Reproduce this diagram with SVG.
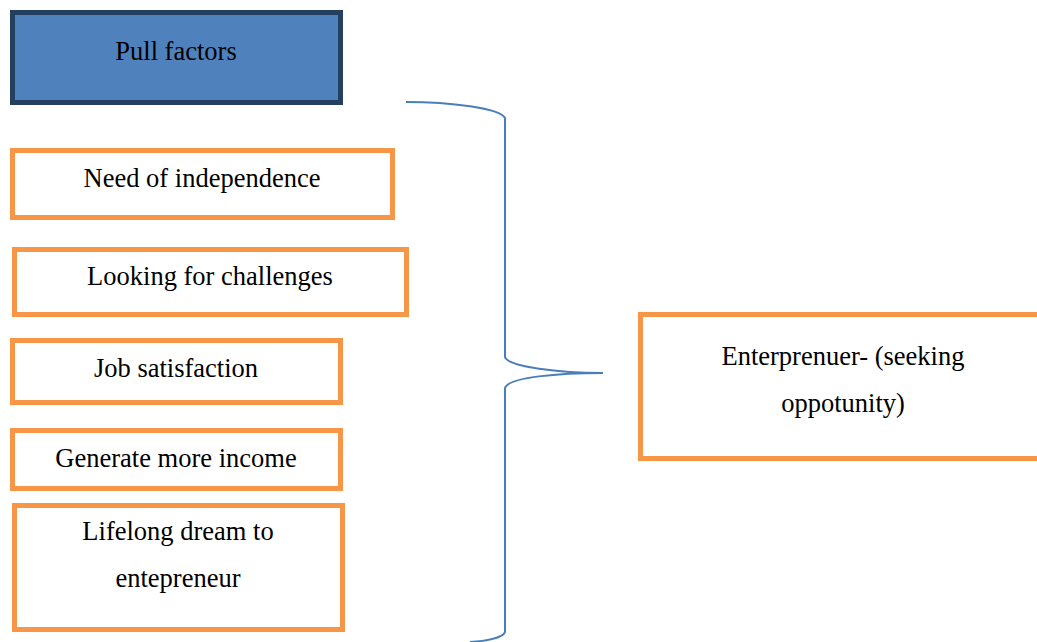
<svg xmlns="http://www.w3.org/2000/svg" width="1037" height="642" viewBox="0 0 1037 642">
<style>
.box{fill:#FFFFFF;stroke:#F79646;stroke-width:5}
.head{fill:#4F81BD;stroke:#243F60;stroke-width:5}
.t{font-family:"Liberation Serif","Times New Roman",serif;font-size:26.5px;fill:#000;text-anchor:middle}
.brace{fill:none;stroke:#4A7EBB;stroke-width:2}
</style>
<rect width="1037" height="642" fill="#FFFFFF"/>
<g id="pull-factors">
<rect class="head" x="12.5" y="12.5" width="328" height="90"/>
<text class="t" x="176" y="60">Pull factors</text>
</g>
<g id="need-independence">
<rect class="box" x="12.5" y="150.5" width="380" height="67"/>
<text class="t" x="202" y="187">Need of independence</text>
</g>
<g id="looking-challenges">
<rect class="box" x="14.5" y="249.5" width="392" height="65"/>
<text class="t" x="210" y="285">Looking for challenges</text>
</g>
<g id="job-satisfaction">
<rect class="box" x="12.5" y="340.5" width="328" height="62"/>
<text class="t" x="176" y="377">Job satisfaction</text>
</g>
<g id="generate-income">
<rect class="box" x="12.5" y="430.5" width="328" height="58"/>
<text class="t" x="176" y="467">Generate more income</text>
</g>
<g id="lifelong-dream">
<rect class="box" x="14.5" y="505.5" width="328" height="124"/>
<text class="t" x="178" y="540">Lifelong dream to</text>
<text class="t" x="178" y="587">entepreneur</text>
</g>
<g id="entrepreneur">
<rect class="box" x="640.5" y="314.5" width="400" height="144"/>
<text class="t" x="843" y="365">Enterprenuer- (seeking</text>
<text class="t" x="843" y="412">oppotunity)</text>
</g>
<g id="connectors">
<path class="brace" d="M406,102 C450,102 500,108 505,118 L505,357 C508,367 560,373 603,373 C560,373 508,377 505,388 L505,632 C503,638 485,641 470,642"/>
</g>
</svg>
